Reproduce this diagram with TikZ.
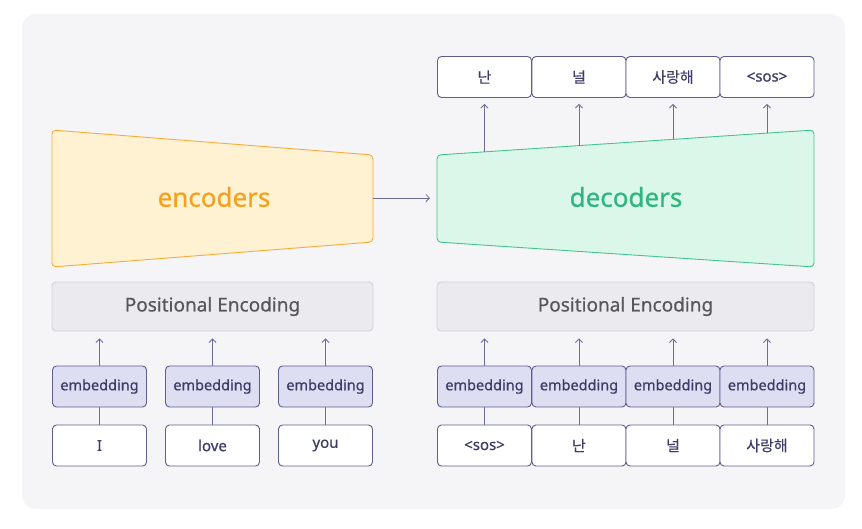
\documentclass[tikz,border=0pt]{standalone}
\usepackage{fontspec}
\setmainfont{Noto Sans}[FakeBold=0.6]
\newfontfamily\kr{Noto Sans CJK KR}[FakeBold=0.4]
\usetikzlibrary{arrows.meta}
\definecolor{bg}{HTML}{F5F5F8}
\definecolor{boxline}{HTML}{5E5E8E}
\definecolor{boxtext}{HTML}{3C3C68}
\definecolor{embfill}{HTML}{DEDEF2}
\definecolor{pefill}{HTML}{EBEBEF}
\definecolor{peline}{HTML}{CFCFD7}
\definecolor{petext}{HTML}{56565F}
\definecolor{encfill}{HTML}{FFF2D3}
\definecolor{encline}{HTML}{F5AC3A}
\definecolor{enctext}{HTML}{F5A11E}
\definecolor{decfill}{HTML}{DBF7EA}
\definecolor{decline}{HTML}{44C48E}
\definecolor{dectext}{HTML}{2FB57D}
\definecolor{arrowc}{HTML}{6C6C9A}
\tikzset{
  tokbox/.style={draw=boxline, fill=white, line width=0.9pt, rounded corners=4pt,
    minimum width=94pt, minimum height=41pt, inner sep=0pt, text=boxtext, font=\fontsize{15}{18}\selectfont},
  embbox/.style={tokbox, fill=embfill, font=\fontsize{14.5}{17}\selectfont},
  pebox/.style={draw=peline, fill=pefill, line width=0.9pt, rounded corners=4pt,
    minimum height=49pt, inner sep=0pt, text=petext, font=\fontsize{19}{22}\selectfont},
  conn/.style={draw=arrowc, line width=0.8pt},
  arr/.style={conn, -{Straight Barb[length=3.5pt,width=7pt,line width=0.8pt]}},
}
\begin{document}
\begin{tikzpicture}[x=1pt,y=-1pt]
\useasboundingbox (0,0) rectangle (862,528);
\fill[white] (0,0) rectangle (862,528);
\fill[bg, rounded corners=14pt] (22,14) rectangle (845,509);

% encoder
\draw[fill=encfill, draw=encline, line width=0.9pt, rounded corners=4pt]
  (52,130) -- (373,155) -- (373,242) -- (52,267) -- cycle;
\node[text=enctext, font=\fontsize{26}{30}\selectfont] (enc) at (214,197) {encoders};
\coordinate (encR) at (373,198);

% decoder
\draw[fill=decfill, draw=decline, line width=0.9pt, rounded corners=4pt]
  (437,155) -- (814,130) -- (814,267) -- (437,242) -- cycle;
\node[text=dectext, font=\fontsize{26}{30}\selectfont] (dec) at (626,197) {decoders};
\coordinate (decL) at (437,198);

\draw[arr, shorten >=7pt] (encR) -- (decL);

% output boxes
\node[tokbox] (o1) at (484.5,77) {\kr 난};
\node[tokbox] (o2) at (579,77) {\kr 널};
\node[tokbox] (o3) at (673,77) {\kr 사랑해};
\node[tokbox] (o4) at (767,77) {<sos>};

\coordinate (d1) at (484.5,151.9);
\coordinate (d2) at (579,145.6);
\coordinate (d3) at (673,139.4);
\coordinate (d4) at (767,133.1);
\foreach \i in {1,2,3,4}{
  \draw[arr, shorten >=6pt] (d\i) -- (o\i.south);
}

% positional encodings
\node[pebox, minimum width=321pt] (pe1) at (212.5,306.5) {Positional Encoding};
\node[pebox, minimum width=377pt] (pe2) at (625.5,306.5) {Positional Encoding};

% encoder embeddings and inputs
\node[embbox] (ee1) at (99.5,386.5) {embedding};
\node[embbox] (ee2) at (212.5,386.5) {embedding};
\node[embbox] (ee3) at (325.5,386.5) {embedding};
\node[tokbox] (ei1) at (99.5,445.5) {I};
\node[tokbox] (ei2) at (212.5,445.5) {love};
\node[tokbox] (ei3) at (325.5,445.5) {you};
\foreach \i in {1,2,3}{
  \draw[conn] (ei\i.north) -- (ee\i.south);
  \draw[arr, shorten >=7pt] (ee\i.north) -- (ee\i.north |- pe1.south);
}

% decoder embeddings and inputs
\node[embbox] (de1) at (484.5,386.5) {embedding};
\node[embbox] (de2) at (579,386.5) {embedding};
\node[embbox] (de3) at (673,386.5) {embedding};
\node[embbox] (de4) at (767,386.5) {embedding};
\node[tokbox] (di1) at (484.5,445.5) {<sos>};
\node[tokbox] (di2) at (579,445.5) {\kr 난};
\node[tokbox] (di3) at (673,445.5) {\kr 널};
\node[tokbox] (di4) at (767,445.5) {\kr 사랑해};
\foreach \i in {1,2,3,4}{
  \draw[conn] (di\i.north) -- (de\i.south);
  \draw[arr, shorten >=7pt] (de\i.north) -- (de\i.north |- pe2.south);
}
\end{tikzpicture}
\end{document}
